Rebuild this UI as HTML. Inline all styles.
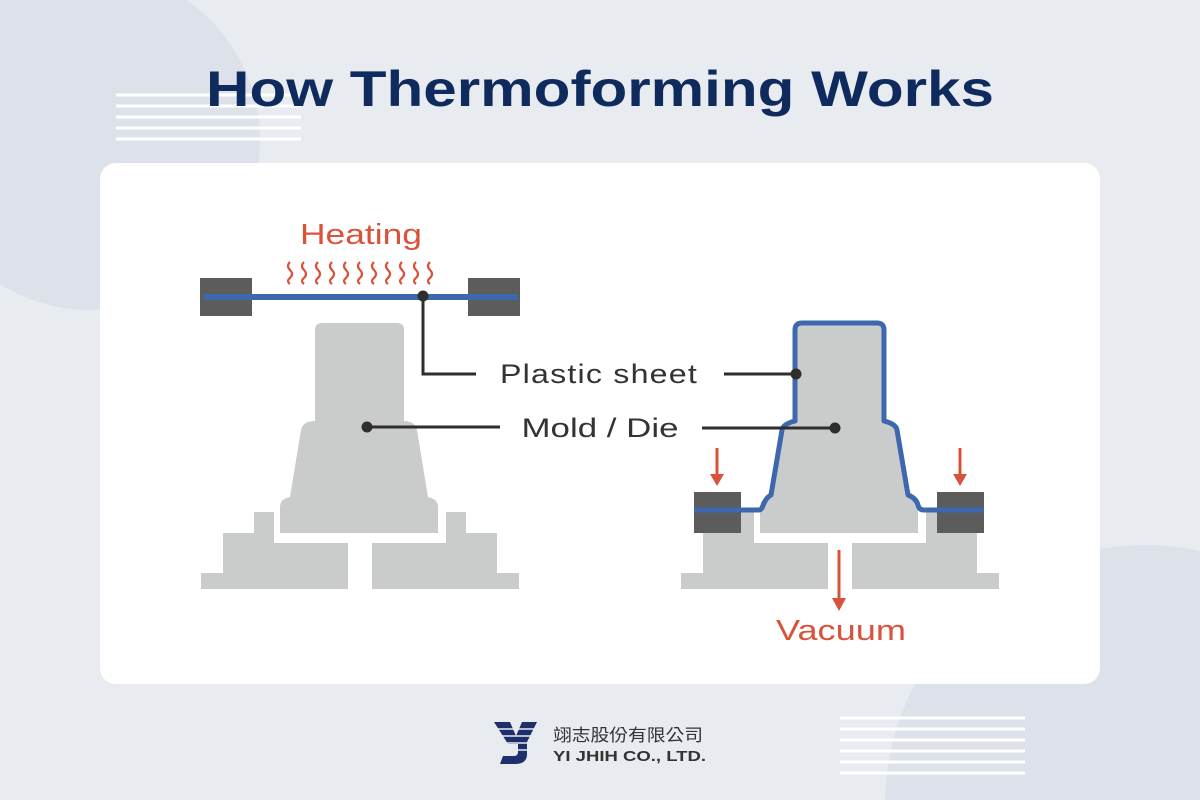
<!DOCTYPE html>
<html><head><meta charset="utf-8"><style>
html,body{margin:0;padding:0;width:1200px;height:800px;overflow:hidden;background:#e8ebf0;}
svg{display:block;width:1200px;height:800px}
</style></head><body>
<svg width="1200" height="800" viewBox="0 0 1200 800" xmlns="http://www.w3.org/2000/svg">
<rect width="1200" height="800" fill="#e8ebf0"/>
<circle cx="90" cy="140" r="170" fill="#dde2ea"/>
<circle cx="1145" cy="805" r="260" fill="#dde2ea"/>
<g stroke="#ffffff" stroke-width="3">
<line x1="116" y1="95" x2="301" y2="95"/><line x1="116" y1="106" x2="301" y2="106"/><line x1="116" y1="117" x2="301" y2="117"/><line x1="116" y1="128" x2="301" y2="128"/><line x1="116" y1="139" x2="301" y2="139"/>
<line x1="840" y1="718" x2="1025" y2="718"/><line x1="840" y1="729" x2="1025" y2="729"/><line x1="840" y1="740" x2="1025" y2="740"/><line x1="840" y1="751" x2="1025" y2="751"/><line x1="840" y1="762" x2="1025" y2="762"/><line x1="840" y1="773" x2="1025" y2="773"/>
</g>
<text x="600" y="106" text-anchor="middle" font-family="Liberation Sans, sans-serif" font-weight="bold" font-size="50" fill="#0f2a5c" textLength="788" lengthAdjust="spacingAndGlyphs">How Thermoforming Works</text>
<rect x="100" y="163" width="1000" height="521" rx="16" fill="#ffffff"/>

<defs>
<path id="mold" d="M322,323 H397 Q404,323 404,330 V421 Q415,421 417,430 L428,497 Q438,499 438,507 V533 H280 V507 Q280,499 290,497 L301,430 Q303,421 315,421 V330 Q315,323 322,323 Z" fill="#cacbcb"/>
<path id="base" d="M254,512 H274 V543 H348 V589 H201 V573 H223 V533 H254 Z M466,512 H446 V543 H372 V589 H519 V573 H497 V533 H466 Z" fill="#cacbcb"/>
</defs>

<use href="#mold"/><use href="#base"/>
<rect x="200" y="278" width="52" height="38" fill="#5c5c5c"/>
<rect x="468" y="278" width="52" height="38" fill="#5c5c5c"/>
<line x1="204" y1="297" x2="518" y2="297" stroke="#3d68ad" stroke-width="6"/>
<g fill="none" stroke="#d9533a" stroke-width="2.2">
<path d="M290,262 q-4,4 0,8 q4,4 0,8 q-4,3 0,6"/><path d="M304,262 q-4,4 0,8 q4,4 0,8 q-4,3 0,6"/><path d="M318,262 q-4,4 0,8 q4,4 0,8 q-4,3 0,6"/><path d="M332,262 q-4,4 0,8 q4,4 0,8 q-4,3 0,6"/><path d="M346,262 q-4,4 0,8 q4,4 0,8 q-4,3 0,6"/><path d="M360,262 q-4,4 0,8 q4,4 0,8 q-4,3 0,6"/><path d="M374,262 q-4,4 0,8 q4,4 0,8 q-4,3 0,6"/><path d="M388,262 q-4,4 0,8 q4,4 0,8 q-4,3 0,6"/><path d="M402,262 q-4,4 0,8 q4,4 0,8 q-4,3 0,6"/><path d="M416,262 q-4,4 0,8 q4,4 0,8 q-4,3 0,6"/><path d="M430,262 q-4,4 0,8 q4,4 0,8 q-4,3 0,6"/>
</g>
<text x="361" y="244" text-anchor="middle" font-family="Liberation Sans, sans-serif" font-size="29" fill="#d9533a" textLength="122" lengthAdjust="spacingAndGlyphs">Heating</text>
<path d="M423,296 V374 H476" fill="none" stroke="#2e2e2e" stroke-width="3"/>
<circle cx="423" cy="296" r="5.5" fill="#2e2e2e"/>
<line x1="367" y1="427" x2="500" y2="427" stroke="#2e2e2e" stroke-width="3"/>
<circle cx="367" cy="427" r="5.5" fill="#2e2e2e"/>

<g transform="translate(480,0)"><use href="#mold"/><use href="#base"/></g>
<rect x="694" y="492" width="47" height="41" fill="#5c5c5c"/>
<rect x="937" y="492" width="47" height="41" fill="#5c5c5c"/>
<path d="M694,510 H759 Q762,510 764,503 Q767,497 771,495 L782,430 Q783,424 795,421 V330 Q795,323 802,323 H877 Q884,323 884,330 V421 Q896,424 897,430 L908,495 Q916,498 918,505 Q919,510 924,510 H984" fill="none" stroke="#3d68ad" stroke-width="5" stroke-linejoin="round"/>
<g stroke="#d9533a" stroke-width="3" fill="#d9533a">
<line x1="717" y1="448" x2="717" y2="476"/><path d="M710,474 L724,474 L717,486 Z" stroke="none"/>
<line x1="960" y1="448" x2="960" y2="476"/><path d="M953,474 L967,474 L960,486 Z" stroke="none"/>
<line x1="839" y1="550" x2="839" y2="600"/><path d="M832,598 L846,598 L839,611 Z" stroke="none"/>
</g>
<text x="841" y="640" text-anchor="middle" font-family="Liberation Sans, sans-serif" font-size="29" fill="#d9533a" textLength="130" lengthAdjust="spacingAndGlyphs">Vacuum</text>
<line x1="724" y1="374" x2="796" y2="374" stroke="#2e2e2e" stroke-width="3"/>
<circle cx="796" cy="374" r="5.5" fill="#2e2e2e"/>
<line x1="702" y1="428" x2="835" y2="428" stroke="#2e2e2e" stroke-width="3"/>
<circle cx="835" cy="428" r="5.5" fill="#2e2e2e"/>

<text x="599" y="383" text-anchor="middle" font-family="Liberation Sans, sans-serif" font-size="27" fill="#333333" textLength="198" lengthAdjust="spacingAndGlyphs" letter-spacing="1">Plastic sheet</text>
<text x="600" y="437" text-anchor="middle" font-family="Liberation Sans, sans-serif" font-size="27" fill="#333333" textLength="157" lengthAdjust="spacingAndGlyphs">Mold / Die</text>

<g fill="#1f2f6b">
<path d="M494,722 H510 L516,736 L522,722 H537 L527,742 V754 Q527,764 515,764 H500 L503,756 H514 Q518,756 518,752 V744 L508,744 Z"/>
</g>
<g stroke="#e8ebf0" stroke-width="1.5">
<line x1="492" y1="729" x2="540" y2="729"/><line x1="492" y1="736" x2="540" y2="736"/><line x1="492" y1="743" x2="540" y2="743"/><line x1="492" y1="750" x2="540" y2="750"/>
</g>
<text x="553" y="741" font-family="Liberation Sans, 'Noto Sans CJK TC', sans-serif" font-size="17" fill="#333" textLength="150" lengthAdjust="spacingAndGlyphs">翊志股份有限公司</text>
<text x="553" y="761" font-family="Liberation Sans, sans-serif" font-weight="bold" font-size="15" fill="#333" textLength="153" lengthAdjust="spacingAndGlyphs">YI JHIH CO., LTD.</text>
</svg>
</body></html>
